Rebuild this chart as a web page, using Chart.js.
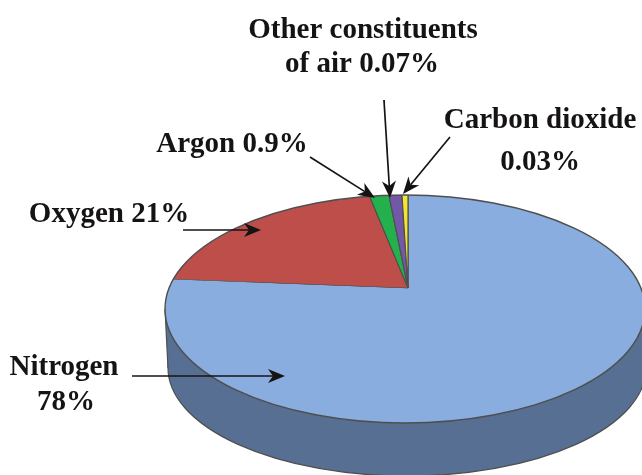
<!DOCTYPE html>
<html><head><meta charset="utf-8">
<style>html,body{margin:0;padding:0;background:#fff}canvas{display:block}</style>
<script src="https://cdn.jsdelivr.net/npm/chart.js@4"></script>
</head><body><canvas id="c" width="642" height="475"></canvas>
<script>
// Slice order runs clockwise from 12 o'clock
const categories = ['Nitrogen','Oxygen','Argon','Other constituents of air','Carbon dioxide'];
// Percentages printed on the figure
const statedPercent = [78,21,0.9,0.07,0.03];
// Slice sizes as actually drawn in the picture (small slices are exaggerated there)
const drawnShares = [76.3,20.6,1.58,1.06,0.49];
const sliceColors = ['#88ADDE','#BE4E4A','#24B04C','#7458A8','#F2E62E'];
const wallColor = '#566F92';
const edgeColor = '#4f4f4f';

const FONT = 'bold 29px "Liberation Serif"';
const labelLines = [
  {t:'Other constituents', x:363, y:38},
  {t:'of air '+statedPercent[3]+'%', x:362, y:72},
  {t:'Carbon dioxide', x:540, y:128},
  {t:statedPercent[4]+'%', x:540, y:170},
  {t:'Argon '+statedPercent[2]+'%', x:232, y:152},
  {t:'Oxygen '+statedPercent[1]+'%', x:109, y:222},
  {t:'Nitrogen', x:64, y:375},
  {t:statedPercent[0]+'%', x:66, y:410}
];
const arrows = [
  [132,376,285,376],[183,230,261,230],[310,157,375,198],[384,100,390,198],[450,137,403,194]
];
// Perspective of the disc: top face and bottom rim
const topFace = {x:405,y:309,rx:240,ry:114};
const botFace = {x:407,y:368,rx:239,ry:108};

function ell(ctx,e){ctx.ellipse(e.x,e.y,e.rx,e.ry,0,0,Math.PI*2);}
const disc = {
  id:'disc',
  beforeDatasetsDraw(chart){
    const ctx=chart.ctx, arc=chart.getDatasetMeta(0).data[0];
    ctx.save();
    ctx.fillStyle=wallColor; ctx.strokeStyle=edgeColor; ctx.lineWidth=1.2;
    ctx.beginPath(); ell(ctx,botFace); ctx.fill(); ctx.stroke();
    ctx.beginPath();
    ctx.moveTo(topFace.x-topFace.rx,topFace.y);
    ctx.lineTo(botFace.x-botFace.rx,botFace.y);
    ctx.lineTo(botFace.x+botFace.rx,botFace.y);
    ctx.lineTo(topFace.x+topFace.rx,topFace.y);
    ctx.closePath(); ctx.fill();
    ctx.beginPath();
    ctx.moveTo(topFace.x-topFace.rx,topFace.y);ctx.lineTo(botFace.x-botFace.rx,botFace.y);
    ctx.moveTo(topFace.x+topFace.rx,topFace.y);ctx.lineTo(botFace.x+botFace.rx,botFace.y);
    ctx.stroke();
    ctx.restore();
    ctx.save();
    ctx.beginPath(); ell(ctx,topFace); ctx.clip();
    ctx.translate(arc.x,arc.y); ctx.scale(1,topFace.ry/topFace.rx); ctx.translate(-arc.x,-arc.y);
  },
  afterDatasetsDraw(chart){
    const ctx=chart.ctx;
    ctx.restore();
    ctx.save();
    ctx.strokeStyle=edgeColor; ctx.lineWidth=1.4;
    ctx.beginPath(); ell(ctx,topFace); ctx.stroke();
    ctx.textAlign='center'; ctx.textBaseline='alphabetic'; ctx.font=FONT;
    ctx.fillStyle='#161314';
    labelLines.forEach(l=>ctx.fillText(l.t,l.x,l.y));
    arrows.forEach(([x0,y0,x1,y1])=>{
      const a=Math.atan2(y1-y0,x1-x0), L=17, W=7, N=12;
      ctx.strokeStyle='#161314'; ctx.lineWidth=1.7;
      ctx.beginPath(); ctx.moveTo(x0,y0);
      ctx.lineTo(x1-N*Math.cos(a),y1-N*Math.sin(a)); ctx.stroke();
      ctx.save(); ctx.translate(x1,y1); ctx.rotate(a);
      ctx.beginPath(); ctx.moveTo(0,0); ctx.lineTo(-L,-W); ctx.lineTo(-N,0); ctx.lineTo(-L,W); ctx.closePath(); ctx.fill();
      ctx.restore();
    });
    ctx.restore();
  }
};
new Chart(document.getElementById('c'),{
  type:'pie',
  data:{labels:categories,datasets:[{data:drawnShares,backgroundColor:sliceColors,borderColor:edgeColor,borderWidth:1.2,borderAlign:'center'}]},
  options:{
    responsive:false,animation:false,
    layout:{padding:{left:174,top:101}},
    datasets:{pie:{radius:300}},
    plugins:{legend:{display:false},tooltip:{enabled:false},title:{display:false}}
  },
  plugins:[disc]
});
</script></body></html>
